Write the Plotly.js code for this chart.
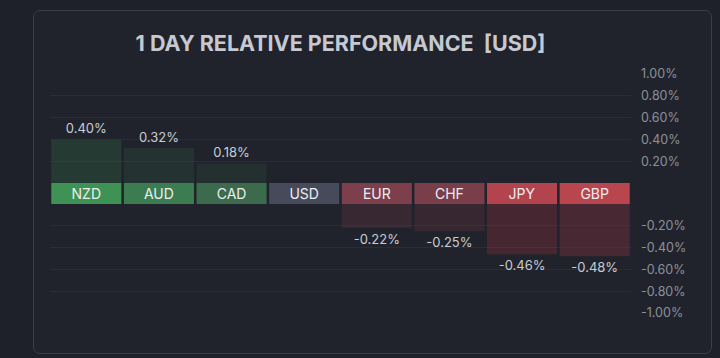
<!DOCTYPE html>
<html>
<head>
<meta charset="utf-8">
<script src="https://cdn.plot.ly/plotly-3.0.1.min.js"></script>
<style>
  html, body { margin:0; padding:0; background:#1e2129; width:720px; height:358px; overflow:hidden; }
  #card { position:absolute; left:33px; top:10px; width:677px; height:342px; border:1px solid #3a3e48; border-radius:7px; background:#20232b; }
  #chart { position:absolute; left:0; top:0; width:720px; height:358px; }
</style>
</head>
<body>
<div id="card"></div>
<div id="chart"></div>
<script>
const currencies = ['NZD','AUD','CAD','USD','EUR','CHF','JPY','GBP'];
const changes = [0.40, 0.32, 0.18, 0.00, -0.22, -0.25, -0.46, -0.48];
const cellColors = ['#3e9254','#3b7d50','#3b6a4c','#474a5a','#7c3f4b','#7a3e4a','#b3444d','#b9464e'];
const barColors = ['rgba(52,120,72,0.28)','rgba(52,100,70,0.26)','rgba(52,90,70,0.22)','rgba(0,0,0,0)','rgba(120,55,70,0.28)','rgba(120,55,70,0.26)','rgba(150,50,65,0.33)','rgba(150,50,65,0.34)'];
const posTicks = [0.2, 0.4, 0.6, 0.8, 1.0];
const negTicks = [-0.2, -0.4, -0.6, -0.8, -1.0];
const fmt = v => v.toFixed(2) + '%';

const posVals = changes.map(v => v > 0 ? v : 0);
const negVals = changes.map(v => v < 0 ? v : 0);

const traces = [
  {
    type:'bar', x:currencies, y:posVals, yaxis:'y',
    marker:{color:barColors, line:{width:0}},
    text: changes.map(v => v > 0 ? fmt(v) : ''), textposition:'outside',
    textfont:{family:'Inter, Roboto, sans-serif', size:13, color:'#c9ccd3'},
    cliponaxis:false, hoverinfo:'skip'
  },
  {
    type:'bar', x:currencies, y:currencies.map(() => 1), yaxis:'y3',
    marker:{color:cellColors, line:{width:0}},
    text: currencies, textposition:'inside', insidetextanchor:'middle', constraintext:'none',
    textfont:{family:'Inter, Roboto, sans-serif', size:14, color:'#eceef2'},
    hoverinfo:'skip'
  },
  {
    type:'bar', x:currencies, y:negVals, yaxis:'y2',
    marker:{color:barColors, line:{width:0}},
    text: changes.map(v => v < 0 ? fmt(v) : ''), textposition:'outside',
    textfont:{family:'Inter, Roboto, sans-serif', size:13, color:'#c9ccd3'},
    cliponaxis:false, hoverinfo:'skip'
  }
];

const axisCommon = {
  side:'right', showline:false, zeroline:false,
  gridcolor:'#292d36', gridwidth:1,
  tickfont:{family:'Inter, Roboto, sans-serif', size:12.5, color:'#8c909b'},
  ticks:'', ticklabelstandoff:9, fixedrange:true
};

const layout = {
  width:720, height:358,
  paper_bgcolor:'rgba(0,0,0,0)', plot_bgcolor:'rgba(0,0,0,0)',
  margin:{l:50, r:89, t:74, b:45},
  showlegend:false, bargap:0.035,
  title:{text:'1 DAY RELATIVE PERFORMANCE  [USD]', x:0.5, xref:'paper', y:1-43/358, yref:'container', yanchor:'middle',
         font:{family:'Inter, Roboto, sans-serif', size:21.5, color:'#c6c9d1', weight:700}},
  xaxis:{showticklabels:false, showgrid:false, zeroline:false, showline:false, fixedrange:true},
  yaxis: Object.assign({}, axisCommon, {domain:[130/239, 1], range:[0, 1.0], tickvals:posTicks, ticktext:posTicks.map(fmt)}),
  yaxis2: Object.assign({}, axisCommon, {domain:[0, 109/239], range:[-1.0, 0], tickvals:negTicks, ticktext:negTicks.map(fmt), anchor:'x'}),
  yaxis3: {domain:[109/239, 130/239], range:[0,1], showticklabels:false, showgrid:false, zeroline:false, showline:false, anchor:'x', fixedrange:true}
};

Plotly.newPlot('chart', traces, layout, {displayModeBar:false, staticPlot:true});
</script>
</body>
</html>
